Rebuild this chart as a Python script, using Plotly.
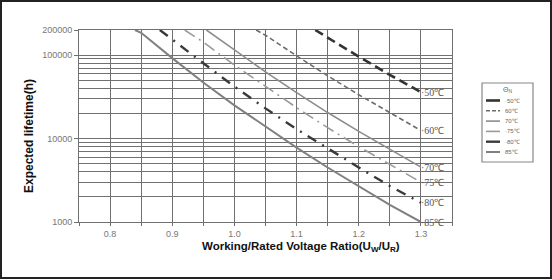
import math
import plotly.graph_objects as go

# ---- data ----
temps = ["50℃", "60℃", "70℃", "75℃", "80℃", "85℃"]

x50 = [1.13, 1.15, 1.20, 1.25, 1.30]
y50 = [200000, 162000, 96000, 58000, 36000]

x60 = [1.035, 1.05, 1.10, 1.15, 1.20, 1.25, 1.30]
y60 = [200000, 173000, 98000, 56500, 33500, 20300, 12500]

x70 = [0.955, 1.00, 1.05, 1.10, 1.15, 1.20, 1.25, 1.30]
y70 = [200000, 115000, 63000, 35500, 20500, 12200, 7400, 4550]

x75 = [0.92, 0.95, 1.00, 1.05, 1.10, 1.15, 1.20, 1.25, 1.30]
y75 = [200000, 143000, 76000, 42000, 23500, 13500, 8000, 4900, 3000]

x80 = [0.88, 0.90, 0.95, 1.00, 1.05, 1.10, 1.15, 1.20, 1.25, 1.30]
y80 = [200000, 155000, 80000, 42000, 23000, 13000, 7600, 4500, 2700, 1700]

x85 = [0.84, 0.85, 0.90, 0.95, 1.00, 1.05, 1.10, 1.15, 1.20, 1.25, 1.30]
y85 = [200000, 185000, 92000, 47000, 25000, 14000, 7800, 4500, 2700, 1600, 1000]

xs = [x50, x60, x70, x75, x80, x85]
ys = [y50, y60, y70, y75, y80, y85]

x_ticks = [0.8, 0.9, 1.0, 1.1, 1.2, 1.3]
x_tick_text = ["0.8", "0.9", "1.0", "1.1", "1.2", "1.3"]
y_ticks = [1000, 10000, 100000, 200000]
y_tick_text = ["1000", "10000", "100000", "200000"]
y_minor = [2000, 3000, 4000, 5000, 6000, 7000, 8000, 9000,
           20000, 30000, 40000, 50000, 60000, 70000, 80000, 90000]

# ---- styles ----
colors = ["#333333", "#6e6e6e", "#8c8c8c", "#9a9a9a", "#3a3a3a", "#808080"]
widths = [2.6, 1.6, 1.6, 1.6, 2.4, 2.0]
dashes = ["9px,5px", "5px,3px", "solid", "12px,5px,2px,5px", "10px,7px,2px,7px", "solid"]
leg_dashes = ["solid", "4px,2px", "solid", "solid", "solid", "solid"]

L, R, T, B = 79, 100, 30, 58
PW, PH = 552 - L - R, 280 - T - B

def px(xp):
    return (xp - L) / PW

def py(yp):
    return (280 - B - yp) / PH

fig = go.Figure()
for i, (name, x, y, c, w, d) in enumerate(zip(temps, xs, ys, colors, widths, dashes)):
    fig.add_trace(go.Scatter(x=x, y=y, mode="lines", name=name, showlegend=False,
                             line=dict(color=c, width=w, dash=d)))
    # end label (annotation y on a log axis is given in log10 units)
    fig.add_annotation(x=x[-1], y=math.log10(y[-1]), xref="x", yref="y", xshift=-2,
                       text="·" + name, showarrow=False, xanchor="left", yanchor="middle",
                       font=dict(family="Liberation Serif", size=10, color="#555"))
    # manual legend entry
    ly = 100.5 + i * 10.3
    fig.add_shape(type="line", xref="paper", yref="paper",
                  x0=px(486), x1=px(500), y0=py(ly), y1=py(ly),
                  line=dict(color=c, width=w, dash=leg_dashes[i]))
    fig.add_annotation(x=px(503), y=py(ly), xref="paper", yref="paper",
                       text="·" + name if i in (0, 3, 4) else name,
                       showarrow=False, xanchor="left", yanchor="middle",
                       font=dict(family="Liberation Sans", size=6, color="#666"))

# legend box and title
fig.add_shape(type="rect", xref="paper", yref="paper",
              x0=px(482), x1=px(533), y0=py(162), y1=py(83),
              line=dict(color="#888", width=1.2), fillcolor="rgba(0,0,0,0)")
fig.add_annotation(x=px(507), y=py(90), xref="paper", yref="paper",
                   text="Θ<sub>N</sub>", showarrow=False, xanchor="center", yanchor="middle",
                   font=dict(family="Liberation Sans", size=7, color="#666"))

grid_c = "#707070"
fig.update_xaxes(range=[0.75, 1.35], tickvals=x_ticks, ticktext=x_tick_text,
                 showgrid=True, gridcolor=grid_c, gridwidth=1,
                 showline=True, linecolor=grid_c, linewidth=1, mirror=True,
                 ticks="outside", ticklen=3, tickcolor=grid_c,
                 minor=dict(dtick=0.05, tick0=0.75, showgrid=True, gridcolor=grid_c,
                            gridwidth=1, ticks="outside", ticklen=3, tickcolor=grid_c),
                 tickfont=dict(family="Liberation Sans", size=9, color="#777"),
                 zeroline=False)
fig.update_yaxes(type="log", range=[3, 5.30103], tickvals=y_ticks, ticktext=y_tick_text,
                 showgrid=True, gridcolor=grid_c, gridwidth=1,
                 showline=True, linecolor=grid_c, linewidth=1, mirror=True,
                 ticks="outside", ticklen=4, tickcolor=grid_c,
                 minor=dict(tickvals=y_minor, showgrid=True, gridcolor=grid_c, gridwidth=1),
                 tickfont=dict(family="Liberation Sans", size=9, color="#777"),
                 zeroline=False)

fig.add_annotation(x=px(301), y=py(247), xref="paper", yref="paper",
                   text="<b>Working/Rated Voltage Ratio(U<sub>W</sub>/U<sub>R</sub>)</b>",
                   showarrow=False, font=dict(family="Liberation Sans", size=11.5, color="#111"),
                   xanchor="center", yanchor="middle")
fig.add_annotation(x=px(29), y=py(136), xref="paper", yref="paper",
                   text="<b>Expected lifetime(h)</b>", textangle=-90,
                   showarrow=False, font=dict(family="Liberation Sans", size=12, color="#111"),
                   xanchor="center", yanchor="middle")

# outer frame
fig.add_shape(type="rect", xref="paper", yref="paper",
              x0=px(1), x1=px(551), y0=py(278), y1=py(1),
              line=dict(color="#222", width=2), fillcolor="rgba(0,0,0,0)", layer="above")

fig.update_layout(
    width=552, height=280,
    margin=dict(l=L, r=R, t=T, b=B),
    paper_bgcolor="white", plot_bgcolor="white",
    showlegend=False,
)

fig.write_html("out.html")
